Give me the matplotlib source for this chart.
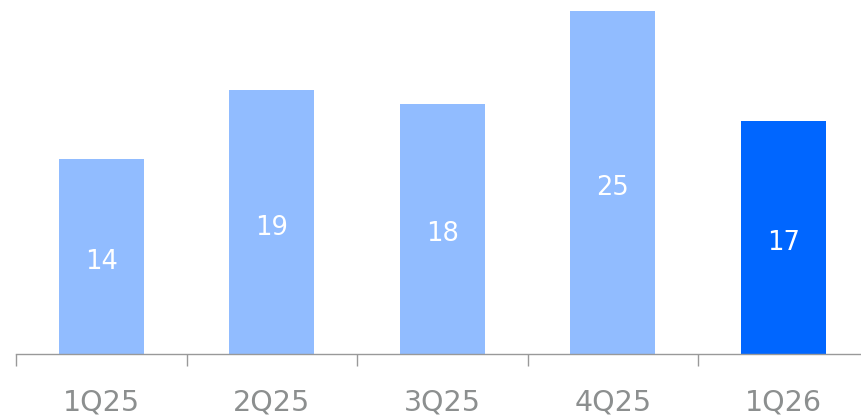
import matplotlib.pyplot as plt
import numpy as np

# quarterly values (bar heights) and shown labels
quarters = ['1Q25', '2Q25', '3Q25', '4Q25', '1Q26']
values = [14.0, 19.0, 18.0, 24.7, 16.8]
labels = ['14', '19', '18', '25', '17']
colors = ['#91bcff', '#91bcff', '#91bcff', '#91bcff', '#0066ff']

fig = plt.figure(figsize=(8.61, 4.17), dpi=100)
ax = fig.add_axes([16 / 861, 63 / 417, 845 / 861, 354 / 417])

x = np.arange(len(quarters))
bars = ax.bar(x, values, width=0.5, color=colors)

# value labels in the middle of each bar, nudged down a little
for xi, v, lab in zip(x, values, labels):
    ax.annotate(lab, (xi, v / 2), xytext=(0, -4), textcoords='offset points',
                ha='center', va='center', color='white', fontsize=18.5)

ax.set_xlim(-0.5, 4.456)
ax.set_ylim(0, 25.47)

# category labels without ticks, boundary ticks as minor
ax.set_xticks(x)
ax.set_xticklabels(quarters, fontsize=20.5, color='#8c8f8f')
ax.tick_params(axis='x', which='major', length=0, pad=25)
ax.set_xticks(np.arange(-0.5, 4.5, 1.0), minor=True)
ax.tick_params(axis='x', which='minor', length=8.5, width=1, color='#999999')
ax.set_yticks([])

for s in ['top', 'right', 'left']:
    ax.spines[s].set_visible(False)
ax.spines['bottom'].set_color('#999999')
ax.spines['bottom'].set_linewidth(1)

fig.savefig('out.png', dpi=100)
